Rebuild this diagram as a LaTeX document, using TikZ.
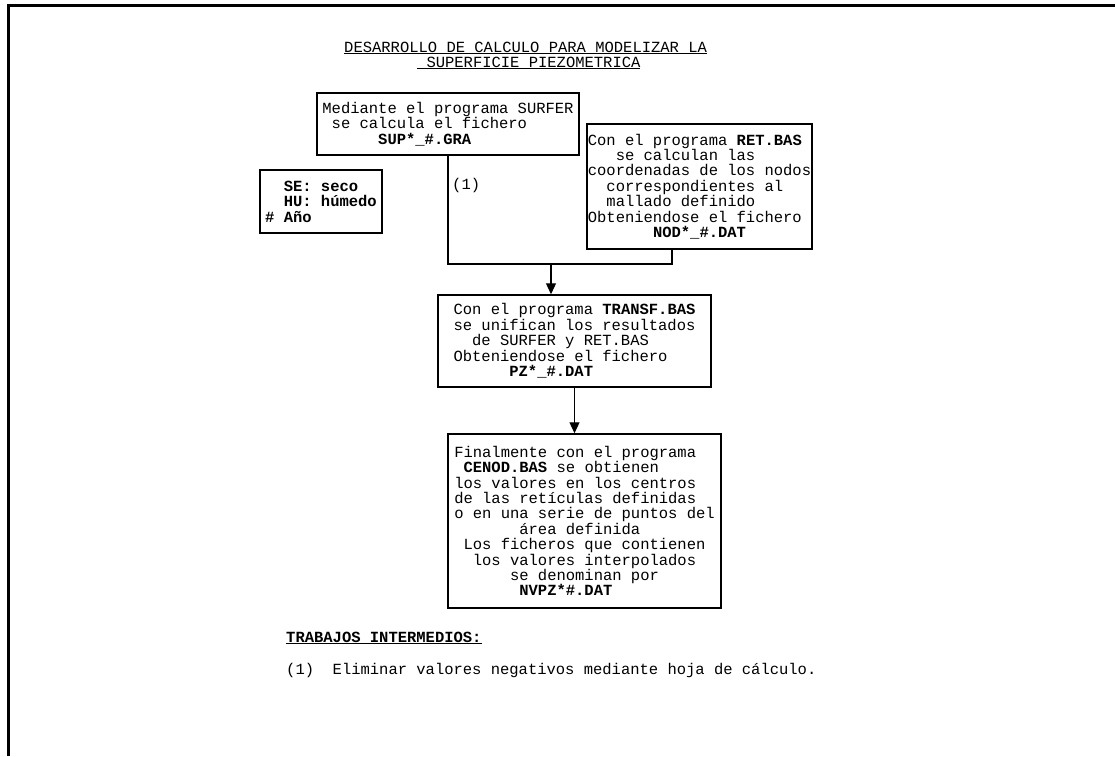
\documentclass[tikz,border=0pt]{standalone}
\usepackage{fontspec}
\newfontfamily\mono{Liberation Mono}
\usetikzlibrary{arrows.meta}
\newcommand{\boxfont}{\mono\fontsize{15.5}{15.4}\selectfont\lineskiplimit=-20pt}

\begin{document}
\begin{tikzpicture}[x=1pt,y=-1pt,
        every node/.style={font=\boxfont,inner sep=0pt},
        paso/.style={draw,line width=1.5pt,align=left,inner sep=1pt},
        flecha/.style={line width=1.2pt}]
        \useasboundingbox (0,0) rectangle (1115,756);
        \draw[line width=3pt] (8,756) -- (8,5) -- (1115,5);

        \node (titulo1) at (344,52) [anchor=base west] {\underline{DESARROLLO DE CALCULO PARA MODELIZAR LA}};
        \node (titulo2) at (417,67) [anchor=base west] {\underline{~SUPERFICIE PIEZOMETRICA}};

        \node[paso,minimum width=262pt,minimum height=62pt] (surfer) at (448,124)
            {Mediante el programa SURFER\\~se calcula el fichero\\~~~~~~\textbf{SUP*\_\#.GRA}};

        \node[paso,minimum width=122pt,minimum height=63pt] (clave) at (321,201.5)
            {\textbf{~~SE: seco}\\\textbf{~~HU: húmedo}\\\textbf{\# Año}};

        \node[paso,minimum width=225pt,minimum height=125pt] (retbas) at (699.5,186.5)
            {Con el programa \textbf{RET.BAS}\\~~~se calculan las\\coordenadas de los nodos\\~~correspondientes al\\~~mallado definido\\Obteniendose el fichero\\~~~~~~~\textbf{NOD*\_\#.DAT}};

        \node[paso,minimum width=273pt,minimum height=92pt] (transf) at (574.5,341)
            {Con el programa \textbf{TRANSF.BAS}\\se unifican los resultados\\~~de SURFER y RET.BAS\\Obteniendose el fichero\\~~~~~~\textbf{PZ*\_\#.DAT}};

        \node[paso,minimum width=273pt,minimum height=174pt] (cenod) at (584.5,521)
            {Finalmente con el programa\\~\textbf{CENOD.BAS} se obtienen\\los valores en los centros\\de las retículas definidas\\o en una serie de puntos del\\~~~~~~~área definida\\~Los ficheros que contienen\\~~los valores interpolados\\~~~~~~se denominan por\\~~~~~~~\textbf{NVPZ*\#.DAT}};

        \node (uno) at (452,189) [anchor=base west] {(1)};

        \coordinate (union) at (551,264);
        \draw[flecha] (surfer.south) |- (union) -| ([xshift=-27.5pt]retbas.south);
        \draw[flecha,-{Triangle[width=10pt,length=11pt]}] (union) -- (union |- transf.north);
        \draw[flecha,-{Triangle[width=10pt,length=11pt]}] (transf.south) -- (transf.south |- cenod.north);

        \node (trabajos) at (286,642) [anchor=base west] {\textbf{\underline{TRABAJOS INTERMEDIOS:}}};
        \node (nota) at (286,674) [anchor=base west] {(1)~~Eliminar valores negativos mediante hoja de cálculo.};
    \end{tikzpicture}
\end{document}
